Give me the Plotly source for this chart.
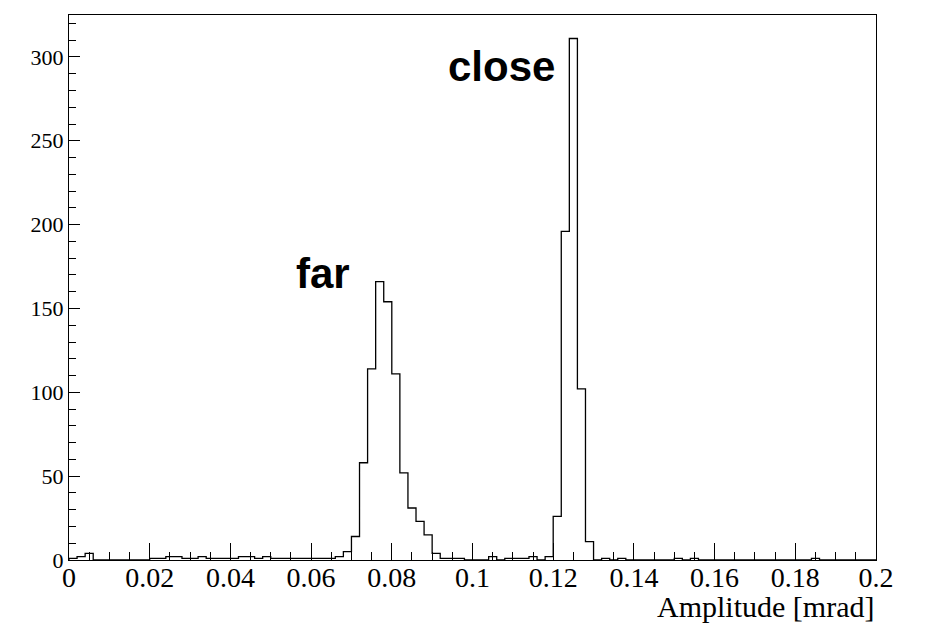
import numpy as np
import plotly.graph_objects as go

# Histogram: 100 bins of width 0.002 from 0 to 0.2 (Amplitude [mrad])
x_min = 0.0
x_max = 0.2
n_bins = 100
counts = [
    1, 2, 4, 0, 0, 0, 0, 0, 0, 0,          # 0.000-0.020
    1, 1, 2, 2, 1, 1, 2, 1, 1, 1,          # 0.020-0.040
    1, 2, 2, 1, 2, 1, 1, 1, 1, 1,          # 0.040-0.060
    1, 1, 1, 2, 5, 14, 58, 114, 166, 154,  # 0.060-0.080
    111, 52, 31, 23, 15, 4, 1, 1, 1, 0,    # 0.080-0.100
    0, 0, 2, 0, 1, 1, 1, 2, 0, 2,          # 0.100-0.120
    26, 196, 311, 102, 11, 0, 1, 0, 1, 0,  # 0.120-0.140
    0, 0, 0, 0, 0, 1, 0, 1, 0, 0,          # 0.140-0.160
    0, 0, 0, 0, 0, 0, 0, 0, 0, 0,          # 0.160-0.180
    0, 0, 1, 0, 0, 0, 0, 0, 0, 0,          # 0.180-0.200
]
x_tickvals = [0, 0.02, 0.04, 0.06, 0.08, 0.1, 0.12, 0.14, 0.16, 0.18, 0.2]
x_ticktext = ["0", "0.02", "0.04", "0.06", "0.08", "0.1", "0.12", "0.14", "0.16", "0.18", "0.2"]
y_tickvals = [0, 50, 100, 150, 200, 250, 300]
labels = ["far", "close"]
label_x = [0.0630, 0.1073]
label_y = [171, 294]

edges = np.linspace(x_min, x_max, n_bins + 1)
xs = [edges[0]] + list(edges)
ys = [0] + list(counts) + [0]

fig = go.Figure()
fig.add_trace(go.Scatter(
    x=xs, y=ys, mode="lines", line=dict(shape="hv", color="black", width=1.3),
    hoverinfo="skip", showlegend=False,
))

for t, lx, ly in zip(labels, label_x, label_y):
    fig.add_annotation(x=lx, y=ly, text="<b>%s</b>" % t, showarrow=False,
                       xanchor="center", yanchor="middle",
                       font=dict(family="Liberation Sans", size=42, color="black"))

fig.add_annotation(xref="paper", yref="paper", x=1.0, y=-0.086, xanchor="right", yanchor="middle",
                   text="Amplitude [mrad]", showarrow=False,
                   font=dict(family="Liberation Serif", size=30, color="black"))

fig.update_xaxes(
    range=[x_min, x_max], tickvals=x_tickvals, ticktext=x_ticktext,
    ticks="inside", ticklen=17, tickwidth=1, tickcolor="black",
    minor=dict(ticks="inside", ticklen=8, dtick=0.005, tick0=0, tickcolor="black", tickwidth=1),
    showline=True, linecolor="black", linewidth=1, mirror=True,
    showgrid=False, zeroline=False, ticklabelstandoff=-8,
    tickfont=dict(family="Liberation Serif", size=28, color="black"),
)
fig.update_yaxes(
    range=[0, 325], tickvals=y_tickvals,
    ticks="inside", ticklen=11, tickwidth=1, tickcolor="black",
    minor=dict(ticks="inside", ticklen=7, dtick=10, tick0=0, tickcolor="black", tickwidth=1),
    showline=True, linecolor="black", linewidth=1, mirror=True,
    showgrid=False, zeroline=False,
    tickfont=dict(family="Liberation Serif", size=22, color="black"),
)
fig.update_layout(
    width=930, height=633,
    margin=dict(l=69, r=54, t=15, b=73),
    plot_bgcolor="white", paper_bgcolor="white",
)
fig.write_html("out.html")
